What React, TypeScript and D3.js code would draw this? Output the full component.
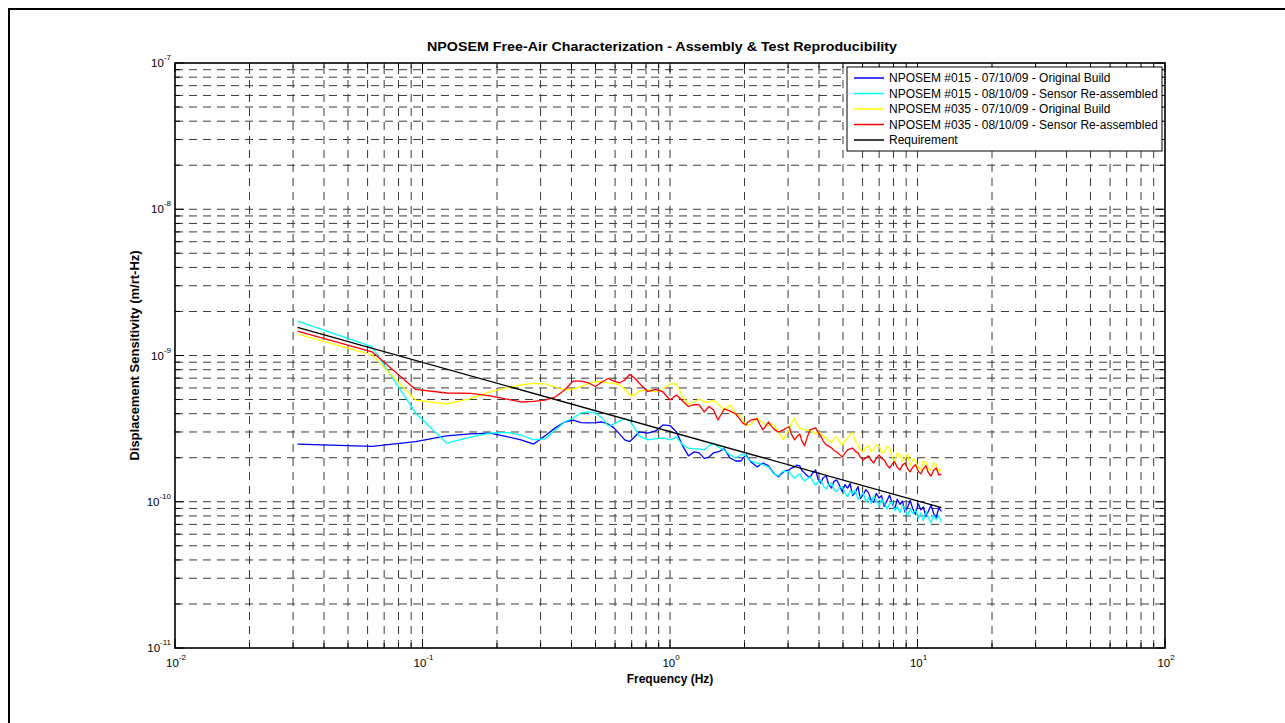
import * as d3 from "d3";

// frequency bins (Hz) shared by the four measured traces
const freqHz = [
  0.03125, 0.0625, 0.09375, 0.125, 0.15625, 0.1875, 0.21875, 0.25, 0.28125, 0.3125, 0.34375, 0.375,
  0.40625, 0.4375, 0.46875, 0.5, 0.53125, 0.5625, 0.59375, 0.625, 0.65625, 0.6875, 0.71875, 0.75, 0.8125, 0.875, 0.9375, 1.0,
  1.0625, 1.125, 1.1875, 1.25, 1.3125, 1.375, 1.4375, 1.5, 1.5625,
  1.65625, 1.75, 1.84375,
  1.9375, 1.96875, 2.03125, 2.0625, 2.125, 2.1875, 2.25, 2.3125, 2.375, 2.4375,
  2.5, 2.5625, 2.625, 2.6875, 2.75, 2.8125, 2.875, 2.9375, 3.03125, 3.09375,
  3.1875, 3.25, 3.34375, 3.40625, 3.5, 3.59375, 3.6875, 3.78125, 3.875, 3.96875,
  4.0625, 4.15625, 4.28125, 4.375, 4.5, 4.59375, 4.71875, 4.84375, 4.96875, 5.09375,
  5.21875, 5.34375, 5.46875, 5.59375, 5.75, 5.875, 6.03125, 6.1875, 6.34375, 6.5,
  6.65625, 6.8125, 7.0, 7.15625, 7.34375, 7.53125, 7.71875, 7.90625, 8.09375, 8.28125,
  8.5, 8.6875, 8.90625, 9.125, 9.34375, 9.5625, 9.8125, 10.0625, 10.3125, 10.5625,
  10.8125, 11.0625, 11.34375, 11.625, 11.90625, 12.1875, 12.5,
];

// displacement sensitivity, in units of 1e-10 m/rt-Hz
const UNIT = 1e-10;

const sn015Original = [
  2.48, 2.39, 2.58, 2.82, 2.91, 2.95, 2.79, 2.65, 2.48, 2.82, 3.2, 3.51,
  3.62, 3.48, 3.46, 3.48, 3.51, 3.4, 3.2, 2.91, 2.65, 2.58, 2.77, 3.0, 2.95, 3.05, 3.35, 3.32,
  3.0, 2.41, 2.06, 2.19, 2.16, 1.98, 2.02, 2.16, 2.19,
  2.3, 1.99, 1.9,
  1.9, 1.98, 2.09, 2.0, 1.87, 1.8, 1.73, 1.79, 1.84, 1.8,
  1.76, 1.66, 1.57, 1.52, 1.48, 1.55, 1.6, 1.63, 1.65, 1.7,
  1.73, 1.78, 1.76, 1.64, 1.57, 1.5, 1.48, 1.58, 1.65, 1.42,
  1.34, 1.46, 1.5, 1.31, 1.24, 1.38, 1.41, 1.29, 1.17, 1.31,
  1.24, 1.33, 1.1, 1.15, 1.27, 1.05, 1.12, 1.21, 1.15, 1.02,
  0.99, 1.14, 1.06, 1.1, 0.93, 1.02, 1.11, 0.97, 0.89, 1.04,
  0.96, 1.01, 0.85, 0.92, 1.02, 0.9, 0.82, 0.97, 0.88, 0.92,
  0.79, 0.86, 0.95, 0.83, 0.78, 0.91, 0.86,
];

const sn015Reassembled = [
  17.2, 11.5, 4.05, 2.52, 2.77, 2.95, 2.98, 2.86, 2.65, 2.69, 3.1, 3.51,
  3.74, 4.05, 4.11, 4.05, 3.74, 3.3, 3.4, 3.57, 3.68, 3.57, 3.2, 2.82, 2.65, 2.69, 2.73, 2.65,
  2.77, 2.45, 2.33, 2.3, 2.3, 2.26, 2.41, 2.52, 2.37,
  2.26, 2.09, 1.99,
  2.09, 2.12, 2.06, 1.97, 1.9, 1.86, 1.84, 1.82, 1.79, 1.76,
  1.73, 1.64, 1.55, 1.52, 1.5, 1.58, 1.62, 1.61, 1.6, 1.52,
  1.45, 1.5, 1.55, 1.46, 1.39, 1.44, 1.48, 1.38, 1.3, 1.37,
  1.41, 1.29, 1.22, 1.31, 1.34, 1.21, 1.17, 1.26, 1.26, 1.15,
  1.08, 1.19, 1.13, 1.21, 1.04, 1.09, 1.16, 1.0, 1.07, 0.97,
  1.1, 1.02, 0.94, 1.04, 0.98, 0.89, 0.97, 1.0, 0.87, 0.93,
  0.84, 0.95, 0.88, 0.8, 0.9, 0.83, 0.88, 0.77, 0.84, 0.74,
  0.86, 0.78, 0.72, 0.81, 0.75, 0.8, 0.73,
];

const sn035Original = [
  14.0, 10.1, 4.96, 4.66, 5.08, 5.63, 6.0, 6.29, 6.44, 6.39, 6.09, 5.81,
  5.9, 6.14, 6.44, 6.64, 6.59, 6.49, 6.44, 6.29, 5.9, 5.37, 5.37, 5.72, 5.81, 5.63, 5.9, 6.39,
  6.39, 5.2, 4.66, 4.81, 5.04, 4.81, 4.81, 4.96, 4.66,
  4.24, 4.59, 3.98,
  3.86, 3.62, 3.3, 3.36, 3.4, 3.6, 3.74, 3.58, 3.46, 3.36,
  3.3, 3.42, 3.35, 3.15, 3.0, 2.8, 2.65, 2.9, 3.1, 3.45,
  3.74, 3.4, 3.2, 3.15, 3.1, 3.12, 3.05, 2.98, 2.91, 3.02,
  2.95, 2.8, 2.73, 2.62, 2.56, 2.7, 2.77, 2.55, 2.45, 2.62,
  2.73, 2.88, 2.95, 2.62, 2.45, 2.28, 2.19, 2.36, 2.41, 2.2,
  2.26, 2.45, 2.41, 2.16, 2.19, 2.38, 2.33, 2.02, 1.87, 2.15,
  2.09, 1.9, 1.99, 2.12, 1.76, 1.95, 1.93, 1.72, 1.65, 1.9,
  1.87, 1.68, 1.65, 1.85, 1.79, 1.62, 1.65,
];

const sn035Reassembled = [
  14.7, 10.6, 5.86, 5.54, 5.5, 5.29, 5.04, 4.81, 4.85, 4.96, 5.2, 5.81,
  6.69, 6.69, 6.49, 6.14, 6.59, 6.96, 6.69, 6.49, 6.8, 7.41, 7.02, 6.49, 5.67, 5.86, 5.63, 4.96,
  5.37, 4.89, 4.48, 4.62, 4.59, 4.11, 4.48, 4.24, 3.62,
  4.31, 4.17, 3.98,
  3.57, 3.45, 3.35, 3.5, 3.62, 3.66, 3.68, 3.35, 3.1, 3.3,
  3.51, 3.3, 3.15, 3.05, 3.0, 3.06, 3.1, 3.18, 3.25, 2.9,
  2.65, 2.78, 2.91, 2.62, 2.41, 2.8, 3.1, 3.15, 3.2, 2.98,
  2.82, 2.6, 2.45, 2.4, 2.33, 2.25, 2.19, 2.1, 2.02, 2.15,
  2.26, 2.3, 2.33, 2.22, 2.16, 2.02, 1.93, 2.0, 2.06, 1.92,
  1.84, 1.98, 2.09, 1.98, 1.93, 1.78, 1.7, 1.82, 1.87, 1.72,
  1.65, 1.78, 1.84, 1.68, 1.6, 1.72, 1.79, 1.62, 1.55, 1.68,
  1.76, 1.58, 1.5, 1.64, 1.7, 1.52, 1.55,
];

const reqFreq = [0.03125, 12.5];
const reqValue = [15.6, 0.91];

const seriesNames = [
  "NPOSEM #015 - 07/10/09 - Original Build",
  "NPOSEM #015 - 08/10/09 - Sensor Re-assembled",
  "NPOSEM #035 - 07/10/09 - Original Build",
  "NPOSEM #035 - 08/10/09 - Sensor Re-assembled",
  "Requirement",
];
const seriesColors = ["#0000ff", "#00ffff", "#ffff00", "#ff0000", "#000000"];

const xTickExps = [-2, -1, 0, 1, 2];
const yTickExps = [-11, -10, -9, -8, -7];

const title = "NPOSEM Free-Air Characterization - Assembly & Test Reproducibility";
const xLabel = "Frequency (Hz)";
const yLabel = "Displacement Sensitivity (m/rt-Hz)";

const W = 1285;
const H = 723;
const margin = { left: 175, right: 1165, top: 63, bottom: 648 };
const font = "'Liberation Sans', Arial, Helvetica, sans-serif";

export default function App() {
  const x = d3.scaleLog().domain([1e-2, 1e2]).range([margin.left, margin.right]);
  const y = d3.scaleLog().domain([1e-11, 1e-7]).range([margin.bottom, margin.top]);

  const isMajor = (v: number) => Math.abs(Math.log10(v) - Math.round(Math.log10(v))) < 1e-6;
  const xTicks = x.ticks();
  const yTicks = y.ticks();

  const line = d3
    .line<[number, number]>()
    .x((d) => x(d[0]))
    .y((d) => y(d[1] * UNIT));

  const traces = [sn015Original, sn015Reassembled, sn035Original, sn035Reassembled].map((vals) =>
    freqHz.map((f, i) => [f, vals[i]] as [number, number])
  );
  traces.push(reqFreq.map((f, i) => [f, reqValue[i]] as [number, number]));

  const gridColor = "#3a3a3a";
  const dash = "8,6";
  const majorLen = 9;
  const minorLen = 5;

  const legend = { x: 847, y: 67, w: 315, h: 84, row0: 78, rowStep: 15.5 };

  return (
    <svg
      width={W}
      height={H}
      style={{ position: "absolute", left: 0, top: 0, background: "#fff", fontFamily: font }}
    >
      <rect x={9} y={9} width={W + 50} height={H + 50} fill="#fff" stroke="#000" strokeWidth={2} />

      {/* grid */}
      {xTicks
        .filter((t) => t > 1e-2 * 1.0001 && t < 1e2 * 0.9999)
        .map((t, i) => (
          <line
            key={"gx" + i}
            x1={x(t)}
            x2={x(t)}
            y1={margin.bottom}
            y2={margin.top}
            stroke={gridColor}
            strokeWidth={1}
            strokeDasharray={dash}
          />
        ))}
      {yTicks
        .filter((t) => t > 1e-11 * 1.0001 && t < 1e-7 * 0.9999)
        .map((t, i) => (
          <line
            key={"gy" + i}
            x1={margin.left}
            x2={margin.right}
            y1={y(t)}
            y2={y(t)}
            stroke={gridColor}
            strokeWidth={1}
            strokeDasharray={dash}
          />
        ))}

      {/* ticks on all four sides */}
      {xTicks.map((t, i) => {
        const len = isMajor(t) ? majorLen : minorLen;
        return (
          <g key={"tx" + i} stroke="#000" strokeWidth={1}>
            <line x1={x(t)} x2={x(t)} y1={margin.bottom} y2={margin.bottom - len} />
            <line x1={x(t)} x2={x(t)} y1={margin.top} y2={margin.top + len} />
          </g>
        );
      })}
      {yTicks.map((t, i) => {
        const len = isMajor(t) ? majorLen : minorLen;
        return (
          <g key={"ty" + i} stroke="#000" strokeWidth={1}>
            <line x1={margin.left} x2={margin.left + len} y1={y(t)} y2={y(t)} />
            <line x1={margin.right} x2={margin.right - len} y1={y(t)} y2={y(t)} />
          </g>
        );
      })}

      {/* traces */}
      <g fill="none" strokeWidth={1.3} strokeLinejoin="round">
        {traces.map((tr, i) => (
          <path key={"s" + i} d={line(tr) ?? ""} stroke={seriesColors[i]} />
        ))}
      </g>

      {/* axes box */}
      <rect
        x={margin.left}
        y={margin.top}
        width={margin.right - margin.left}
        height={margin.bottom - margin.top}
        fill="none"
        stroke="#000"
        strokeWidth={1.6}
      />

      {/* tick labels */}
      {xTickExps.map((e) => (
        <text key={"lx" + e} x={x(Math.pow(10, e)) + 1} y={667} textAnchor="middle" fontSize={11.5} fill="#000">
          10
          <tspan dy={-7} fontSize={8}>
            {e}
          </tspan>
        </text>
      ))}
      {yTickExps.map((e) => (
        <text key={"ly" + e} x={171} y={y(Math.pow(10, e)) + 4} textAnchor="end" fontSize={11.5} fill="#000">
          10
          <tspan dy={-7} fontSize={8}>
            {e}
          </tspan>
        </text>
      ))}

      {/* titles */}
      <text x={662} y={51} textAnchor="middle" fontSize={13} fontWeight="bold" textLength={470} lengthAdjust="spacingAndGlyphs">
        {title}
      </text>
      <text x={670} y={683} textAnchor="middle" fontSize={12} fontWeight="bold">
        {xLabel}
      </text>
      <text
        transform={`translate(139,${(margin.top + margin.bottom) / 2}) rotate(-90)`}
        textAnchor="middle"
        fontSize={13}
        fontWeight="bold"
      >
        {yLabel}
      </text>

      {/* legend */}
      <rect x={legend.x} y={legend.y} width={legend.w} height={legend.h} fill="#fff" stroke="#000" strokeWidth={1} />
      {seriesNames.map((name, i) => {
        const ry = legend.row0 + i * legend.rowStep;
        return (
          <g key={"lg" + i}>
            <line x1={854} x2={884} y1={ry} y2={ry} stroke={seriesColors[i]} strokeWidth={1.5} />
            <text x={889} y={ry + 4} fontSize={12} fill="#000">
              {name}
            </text>
          </g>
        );
      })}
    </svg>
  );
}
